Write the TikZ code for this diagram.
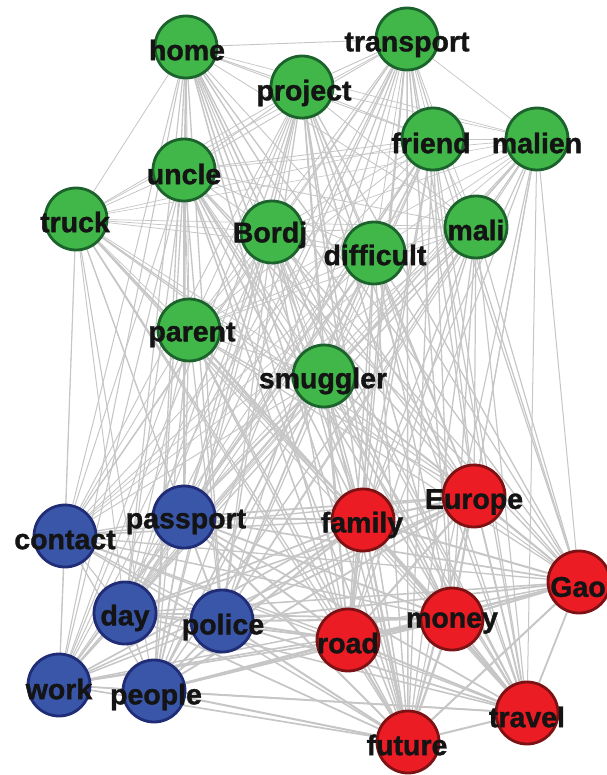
\documentclass[tikz,border=0pt]{standalone}
\usepackage{fontspec}
\setmainfont{Liberation Sans}
\newfontfamily\heavyfont{Liberation Sans}[BoldFeatures={FakeBold=1.2}]
\usetikzlibrary{calc,backgrounds}
\definecolor{leafgreen}{RGB}{66,183,73}
\definecolor{leafrim}{RGB}{28,98,44}
\definecolor{inkblue}{RGB}{57,86,168}
\definecolor{inkrim}{RGB}{32,44,118}
\definecolor{flagred}{RGB}{236,28,36}
\definecolor{flagrim}{RGB}{125,18,20}
\definecolor{tiegray}{RGB}{198,198,198}
\tikzset{
  word/.style={circle, minimum size=62pt, inner sep=0pt, line width=2.8pt},
  gword/.style={word, fill=leafgreen, draw=leafrim},
  bword/.style={word, fill=inkblue, draw=inkrim},
  rword/.style={word, fill=flagred, draw=flagrim},
  lbl/.style={font=\heavyfont\bfseries\fontsize{28.5}{30}\selectfont, text=black!92, inner sep=0pt},
  tie/.style={draw=tiegray, line width=#1}
}
% word / weight of its ties
\def\wordlist{home/1.7,transport/1.6,project/1.7,friend/1.5,malien/1.3,uncle/1.7,truck/1.4,
  bordj/1.6,difficult/1.6,mali/1.5,parent/1.6,smuggler/1.7,contact/1.7,passport/2.2,day/2.0,
  police/2.3,work/1.9,people/2.3,family/2.6,europe/2.4,gao/2.3,money/2.6,road/2.6,travel/2.3,
  future/2.6}
\begin{document}
\begin{tikzpicture}[x=1pt,y=-1pt]
  \useasboundingbox (0,0) rectangle (606,775);
  % green words
  \node[gword] (home) at (186,47) {};
  \node[gword] (transport) at (407,39) {};
  \node[gword] (project) at (302,87) {};
  \node[gword] (friend) at (433,139) {};
  \node[gword] (malien) at (537,139) {};
  \node[gword] (uncle) at (184,170) {};
  \node[gword] (truck) at (76,219) {};
  \node[gword] (bordj) at (272,232) {};
  \node[gword] (difficult) at (374,253) {};
  \node[gword] (mali) at (476,227) {};
  \node[gword] (parent) at (189,330) {};
  \node[gword] (smuggler) at (324,376) {};
  % blue words
  \node[bword] (contact) at (65,536) {};
  \node[bword] (passport) at (184,517) {};
  \node[bword] (day) at (125,613) {};
  \node[bword] (police) at (222,621) {};
  \node[bword] (work) at (59,685) {};
  \node[bword] (people) at (154,691) {};
  % red words
  \node[rword] (family) at (363,520) {};
  \node[rword] (europe) at (474,496) {};
  \node[rword] (gao) at (579,582) {};
  \node[rword] (money) at (452,619) {};
  \node[rword] (road) at (348,640) {};
  \node[rword] (travel) at (527,713) {};
  \node[rword] (future) at (408,742) {};

  % every pair of words is tied
  \begin{scope}[on background layer]
    \foreach \a/\wa [count=\i] in \wordlist {
      \foreach \b/\wb [count=\j] in \wordlist {
        \ifnum\j>\i
          \draw[tie={0.34pt*\wa*\wb}] (\a) -- (\b);
        \fi
      }
    }
  \end{scope}

  % words
  \node[lbl] (home-l) at ($(home)+(1,3)$) {home};
  \node[lbl] (transport-l) at ($(transport)+(0,6)$) {transport};
  \node[lbl] (project-l) at ($(project)+(2,6)$) {project};
  \node[lbl] (friend-l) at ($(friend)+(-2,4)$) {friend};
  \node[lbl] (malien-l) at ($(malien)+(0,4)$) {malien};
  \node[lbl] (uncle-l) at ($(uncle)+(0,4)$) {uncle};
  \node[lbl] (truck-l) at ($(truck)+(-1,3)$) {truck};
  \node[lbl] (bordj-l) at ($(bordj)+(-2,3)$) {Bordj};
  \node[lbl] (difficult-l) at ($(difficult)+(1,2)$) {difficult};
  \node[lbl] (mali-l) at ($(mali)+(0,3)$) {mali};
  \node[lbl] (parent-l) at ($(parent)+(3,5)$) {parent};
  \node[lbl] (smuggler-l) at ($(smuggler)+(-1,5)$) {smuggler};
  \node[lbl] (contact-l) at ($(contact)+(0,4)$) {contact};
  \node[lbl] (passport-l) at ($(passport)+(2,5)$) {passport};
  \node[lbl] (day-l) at ($(day)+(0,5)$) {day};
  \node[lbl] (police-l) at ($(police)+(1,6)$) {police};
  \node[lbl] (work-l) at ($(work)+(0,4)$) {work};
  \node[lbl] (people-l) at ($(people)+(2,6)$) {people};
  \node[lbl] (family-l) at ($(family)+(-1,5)$) {family};
  \node[lbl] (europe-l) at ($(europe)+(0,6)$) {Europe};
  \node[lbl] (gao-l) at ($(gao)+(-1,5)$) {Gao};
  \node[lbl] (money-l) at ($(money)+(0,4)$) {money};
  \node[lbl] (road-l) at ($(road)+(0,3)$) {road};
  \node[lbl] (travel-l) at ($(travel)+(0,4)$) {travel};
  \node[lbl] (future-l) at ($(future)+(-1,3)$) {future};
\end{tikzpicture}
\end{document}
